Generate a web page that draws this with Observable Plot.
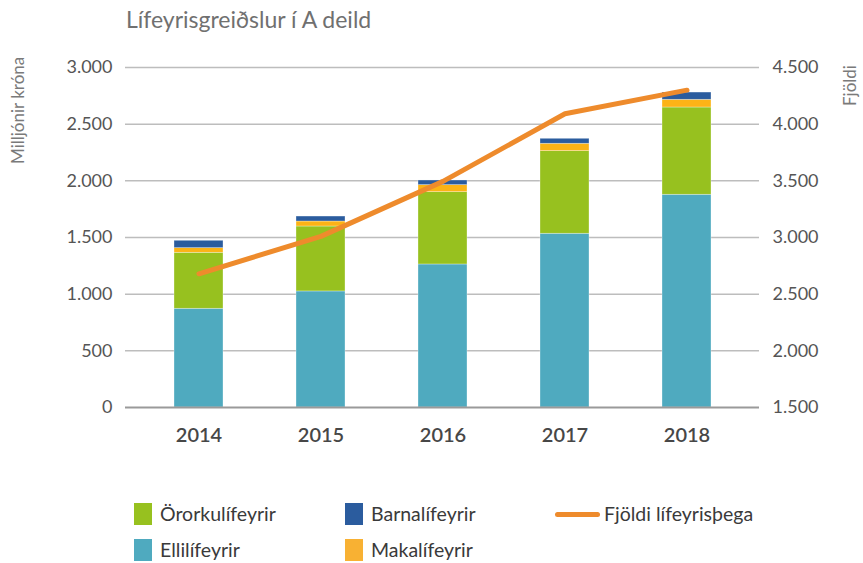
<!DOCTYPE html>
<html>
<head>
<meta charset="utf-8">
<script src="https://cdn.jsdelivr.net/npm/d3@7"></script>
<script src="https://cdn.jsdelivr.net/npm/@observablehq/plot@0.6"></script>
<style>
  html, body { margin: 0; padding: 0; background: #fff; }
  body { width: 863px; height: 563px; position: relative; overflow: hidden; font-family: Lato, "Open Sans", sans-serif; }
  #title { position: absolute; left: 126px; top: 8px; font-size: 23px; line-height: 23px; color: #707070; white-space: nowrap; }
  #chart { position: absolute; left: 0; top: 40px; }
  .ylab { position: absolute; font-size: 17px; color: #7a7a7a; white-space: nowrap; transform-origin: 0 0; transform: rotate(-90deg); line-height: 17px; }
  .leg { position: absolute; display: flex; align-items: center; font-size: 19.5px; color: #3a3a3a; white-space: nowrap; height: 22px; line-height: 22px; }
  .sw { width: 18px; height: 22px; margin-right: 8px; flex: none; }
  .ln { width: 45px; height: 5px; border-radius: 3px; margin-right: 4px; flex: none; }
</style>
</head>
<body>
<div id="title">Lífeyrisgreiðslur í A deild</div>
<div class="ylab" style="left:9px; top:164px;">Milljónir króna</div>
<div class="ylab" style="left:841px; top:106px;">Fjöldi</div>
<div id="chart"></div>
<div id="legend"></div>
<script>
// ---- data ----
const years = ["2014", "2015", "2016", "2017", "2018"];
const seriesNames = ["Ellilífeyrir", "Örorkulífeyrir", "Makalífeyrir", "Barnalífeyrir"];
const seriesColors = ["#4faabf", "#97c11f", "#fcb316", "#2b5c9e"];
const ellilifeyrir   = [871, 1024, 1262, 1533, 1877];
const ororkulifeyrir = [494, 573, 638, 729, 770];
const makalifeyrir   = [41, 44, 62, 65, 68];
const barnalifeyrir  = [65, 44, 41, 44, 64];
const fjoldiName = "Fjöldi lífeyrisþega";
const fjoldiColor = "#ee8b2c";
const fjoldi = [2680, 3010, 3495, 4092, 4300];
const leftDomain = [0, 3000];
const rightDomain = [1500, 4500];
const leftTicks = [0, 500, 1000, 1500, 2000, 2500, 3000];
const rightTicks = [1500, 2000, 2500, 3000, 3500, 4000, 4500];

// ---- derived tables ----
const seriesValues = [ellilifeyrir, ororkulifeyrir, makalifeyrir, barnalifeyrir];
const barData = [];
years.forEach((y, i) => seriesNames.forEach((s, j) => barData.push({year: y, series: s, value: seriesValues[j][i]})));
// map right axis values onto left scale (both span 3000 units)
const k = (leftDomain[1] - leftDomain[0]) / (rightDomain[1] - rightDomain[0]);
const toLeft = v => leftDomain[0] + (v - rightDomain[0]) * k;
const toRight = v => rightDomain[0] + (v - leftDomain[0]) / k;
const lineData = years.map((y, i) => ({year: y, value: toLeft(fjoldi[i])}));

const fmt = d3.formatLocale({decimal: ",", thousands: ".", grouping: [3], currency: ["", ""]}).format(",");

const plot = Plot.plot({
  width: 863,
  height: 420,
  marginLeft: 125,
  marginRight: 104,
  marginTop: 27,
  marginBottom: 53,
  style: {fontFamily: "Lato, 'Open Sans', sans-serif", background: "transparent", overflow: "visible"},
  x: {domain: years, padding: 0.6, paddingOuter: 0.39, label: null},
  y: {domain: leftDomain, label: null},
  color: {domain: seriesNames, range: seriesColors},
  marks: [
    Plot.ruleY(leftTicks.filter(d => d > 0), {stroke: "#bdbdbd", strokeWidth: 1.5}),
    Plot.barY(barData, {x: "year", y: "value", fill: "series", stroke: "#ffffff", strokeOpacity: 0.45, strokeWidth: 0.7, inset: 0}),
    Plot.ruleY([0], {stroke: "#9a9a9a", strokeWidth: 2}),
    Plot.line(lineData, {x: "year", y: "value", stroke: fjoldiColor, strokeWidth: 5, strokeLinecap: "round", strokeLinejoin: "round"}),
    Plot.axisY(leftTicks, {anchor: "left", tickSize: 0, tickPadding: 13, tickFormat: fmt, fontSize: 18, fill: "#555", label: null}),
    Plot.axisY(rightTicks.map(toLeft), {anchor: "right", tickSize: 0, tickPadding: 13, tickFormat: d => fmt(Math.round(toRight(d))), fontSize: 18, fill: "#555", label: null}),
    Plot.axisX({anchor: "bottom", tickSize: 0, tickPadding: 20, fontSize: 20, fontWeight: 600, fill: "#474747", label: null})
  ]
});
document.getElementById("chart").appendChild(plot);

// ---- legend ----
const legend = document.getElementById("legend");
const items = [
  {name: "Örorkulífeyrir", color: seriesColors[1], left: 134, top: 503},
  {name: "Ellilífeyrir", color: seriesColors[0], left: 134, top: 539},
  {name: "Barnalífeyrir", color: seriesColors[3], left: 345, top: 503},
  {name: "Makalífeyrir", color: "#f8b133", left: 345, top: 539}
];
items.forEach(it => {
  const d = document.createElement("div");
  d.className = "leg";
  d.style.left = it.left + "px";
  d.style.top = it.top + "px";
  d.innerHTML = `<div class="sw" style="background:${it.color}"></div><span>${it.name}</span>`;
  legend.appendChild(d);
});
const ld = document.createElement("div");
ld.className = "leg";
ld.style.left = "555px";
ld.style.top = "503px";
ld.innerHTML = `<div class="ln" style="background:${fjoldiColor}"></div><span>${fjoldiName}</span>`;
legend.appendChild(ld);
</script>
</body>
</html>
